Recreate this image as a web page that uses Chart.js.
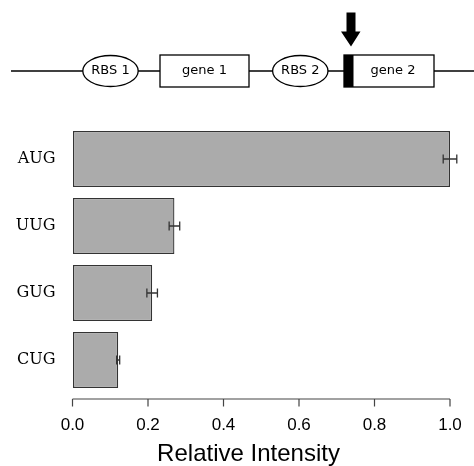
<!DOCTYPE html>
<html>
<head>
<meta charset="utf-8">
<script src="https://cdn.jsdelivr.net/npm/chart.js@4/dist/chart.umd.min.js"></script>
<style>
  html, body { margin: 0; padding: 0; background: #fff; }
  canvas { display: block; }
</style>
</head>
<body>
<canvas id="chart" width="474" height="466"></canvas>
<script>
// ─── Data ────────────────────────────────────────────────────
const codons = ["AUG", "UUG", "GUG", "CUG"];
const intensity = [1.0, 0.27, 0.211, 0.121];
const intensityErr = [0.018, 0.014, 0.014, 0.004];
const xTickValues = [0, 0.2, 0.4, 0.6, 0.8, 1.0];
const xLabel = "Relative Intensity";

// ─── Operon sketch above the plot ────────────────────────────
const operonSketch = {
  id: "operonSketch",
  afterDraw(chart) {
    const ctx = chart.ctx;
    ctx.save();
    ctx.strokeStyle = "#000";
    ctx.lineWidth = 1.3;
    ctx.beginPath();
    ctx.moveTo(11, 71);
    ctx.lineTo(474, 71);
    ctx.stroke();

    ctx.font = "13px 'DejaVu Sans'";
    ctx.textAlign = "center";
    ctx.textBaseline = "middle";

    const ellipse = (cx, label) => {
      ctx.beginPath();
      ctx.ellipse(cx, 71, 27.7, 15.5, 0, 0, Math.PI * 2);
      ctx.fillStyle = "#fff";
      ctx.fill();
      ctx.stroke();
      ctx.fillStyle = "#000";
      ctx.fillText(label, cx, 71);
    };
    const box = (x0, x1, label) => {
      ctx.fillStyle = "#fff";
      ctx.fillRect(x0, 55, x1 - x0, 32);
      ctx.strokeRect(x0, 55, x1 - x0, 32);
      ctx.fillStyle = "#000";
      ctx.fillText(label, (x0 + x1) / 2 + (label === "gene 2" ? 4 : 0), 71);
    };
    ellipse(110.5, "RBS 1");
    box(160, 249, "gene 1");
    ellipse(300.3, "RBS 2");
    box(344, 434, "gene 2");
    ctx.fillStyle = "#000";
    ctx.fillRect(344, 55, 9.5, 32);

    // arrow
    ctx.beginPath();
    ctx.moveTo(346.5, 12.5);
    ctx.lineTo(355.5, 12.5);
    ctx.lineTo(355.5, 31.5);
    ctx.lineTo(360.5, 31.5);
    ctx.lineTo(351, 46.5);
    ctx.lineTo(341, 31.5);
    ctx.lineTo(346.5, 31.5);
    ctx.closePath();
    ctx.fill();
    ctx.restore();
  }
};

// ─── Error bars + R-style axis ───────────────────────────────
const errorBars = {
  id: "errorBars",
  afterDatasetsDraw(chart) {
    const { ctx, scales: { x } } = chart;
    const meta = chart.getDatasetMeta(0);
    ctx.save();
    ctx.strokeStyle = "#333";
    ctx.lineWidth = 1.3;
    meta.data.forEach((bar, i) => {
      const lo = x.getPixelForValue(intensity[i] - intensityErr[i]);
      const hi = x.getPixelForValue(intensity[i] + intensityErr[i]);
      const y = bar.y;
      ctx.beginPath();
      ctx.moveTo(lo, y); ctx.lineTo(hi, y);
      ctx.moveTo(lo, y - 4.5); ctx.lineTo(lo, y + 4.5);
      ctx.moveTo(hi, y - 4.5); ctx.lineTo(hi, y + 4.5);
      ctx.stroke();
    });
    ctx.restore();
  },
  afterDraw(chart) {
    const { ctx, chartArea, scales: { x } } = chart;
    const y0 = chartArea.bottom + 5.5;
    ctx.save();
    ctx.strokeStyle = "#444";
    ctx.lineWidth = 1.2;
    ctx.beginPath();
    ctx.moveTo(x.getPixelForValue(xTickValues[0]), y0);
    ctx.lineTo(x.getPixelForValue(xTickValues[xTickValues.length - 1]), y0);
    xTickValues.forEach(v => {
      const px = x.getPixelForValue(v);
      ctx.moveTo(px, y0);
      ctx.lineTo(px, y0 + 7.5);
    });
    ctx.stroke();

    ctx.fillStyle = "#000";
    ctx.font = "24px 'Liberation Sans'";
    ctx.textAlign = "center";
    ctx.textBaseline = "alphabetic";
    ctx.fillText(xLabel, 248.5, 461);
    ctx.restore();
  }
};

new Chart(document.getElementById("chart"), {
  type: "bar",
  data: {
    labels: codons,
    datasets: [{
      data: intensity,
      backgroundColor: "#ababab",
      borderColor: "#333",
      borderWidth: 1.3,
      borderSkipped: false,
      barPercentage: 0.836,
      categoryPercentage: 1,
    }]
  },
  options: {
    indexAxis: "y",
    responsive: false,
    animation: false,
    layout: { padding: { top: 125.5, right: 24, left: 0, bottom: 0 } },
    plugins: { legend: { display: false }, tooltip: { enabled: false } },
    scales: {
      x: {
        min: 0,
        max: 1,
        afterFit: s => { s.height = 72.5; },
        afterBuildTicks: s => { s.ticks = xTickValues.map(v => ({ value: v })); },
        border: { display: false },
        grid: { drawOnChartArea: false, color: "rgba(0,0,0,0)", tickLength: 10 },
        ticks: {
          color: "#000",
          padding: 12,
          maxRotation: 0,
          font: { family: "Liberation Sans", size: 17 },
          callback: v => v.toFixed(1),
        }
      },
      y: {
        afterFit: s => { s.width = 72.5; },
        border: { display: false },
        grid: { display: false, drawTicks: false },
        ticks: {
          color: "#000",
          padding: 17,
          font: { family: "DejaVu Serif", size: 16 },
        }
      }
    }
  },
  plugins: [operonSketch, errorBars]
});
</script>
</body>
</html>
